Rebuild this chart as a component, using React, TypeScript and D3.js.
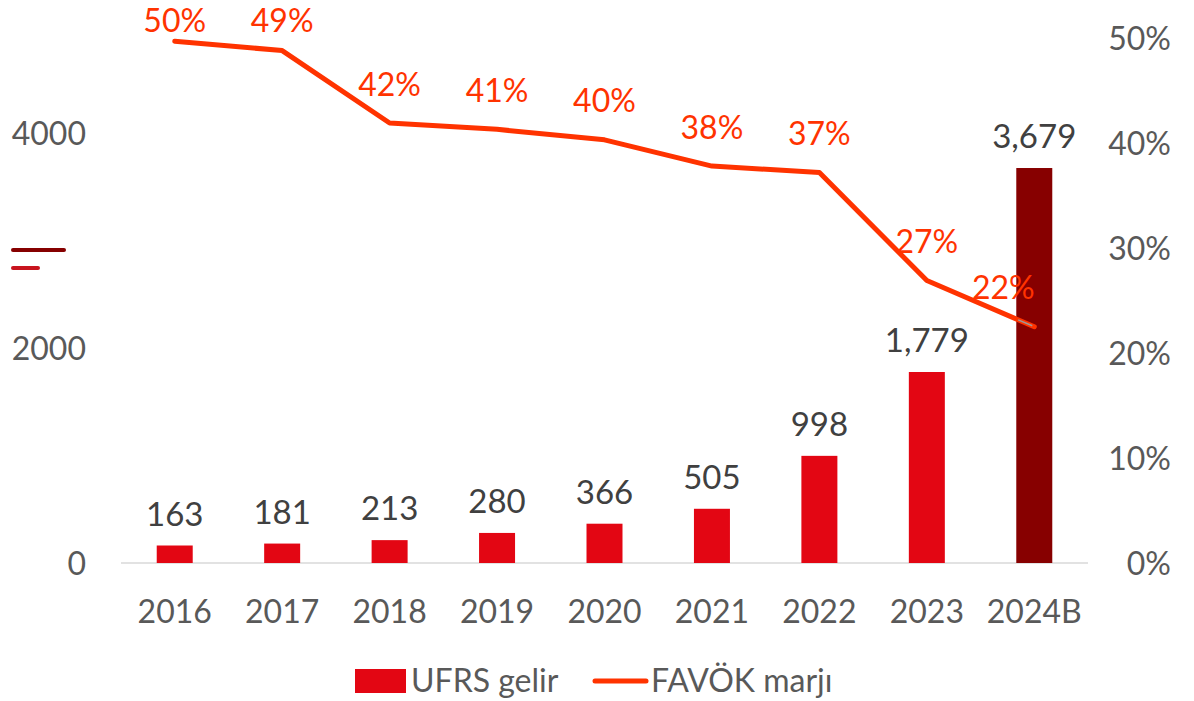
import React from "react";
import * as d3 from "d3";

const categories = ["2016", "2017", "2018", "2019", "2020", "2021", "2022", "2023", "2024B"];
const revenue = [163, 181, 213, 280, 366, 505, 998, 1779, 3679];
const margin = [0.497, 0.488, 0.419, 0.413, 0.403, 0.378, 0.372, 0.269, 0.225];
const marginLabels = ["50%", "49%", "42%", "41%", "40%", "38%", "37%", "27%", "22%"];
const leftTicks = [0, 2000, 4000];
const rightTicks = [0, 0.1, 0.2, 0.3, 0.4, 0.5];

const W = 1194;
const H = 701;
const FONT = "Lato, 'Open Sans', sans-serif";
const AXIS_COLOR = "#595959";
const LABEL_COLOR = "#404040";
const BAR = "#E30613";
const BAR_DARK = "#870000";
const LINE = "#FF3300";
const FS = 32;

export default function App() {
  const x = d3.scaleBand<string>().domain(categories).range([121, 1088]).paddingInner(0.665).paddingOuter(0.3325);
  const yL = d3.scaleLinear().domain([0, 4890]).range([563, 38]);
  const yR = d3.scaleLinear().domain([0, 0.5]).range([563, 38]);
  const cx = (c: string) => (x(c) as number) + x.bandwidth() / 2;
  const line = d3
    .line<number>()
    .x((_, i) => cx(categories[i]))
    .y((d) => yR(d));
  const n = categories.length;
  const lastX = cx(categories[n - 1]);
  const prevX = cx(categories[n - 2]);
  const t = 0.85;
  const grayStart: [number, number] = [
    prevX + (lastX - prevX) * t,
    yR(margin[n - 2]) + (yR(margin[n - 1]) - yR(margin[n - 2])) * t,
  ];

  return (
    <svg width={W} height={H} style={{ position: "absolute", left: 0, top: 0, background: "#fff" }} fontFamily={FONT}>
      {/* baseline */}
      <line x1={121} x2={1088} y1={yL(0)} y2={yL(0)} stroke="#d9d9d9" strokeWidth={1.5} />
      {/* decorative marks */}
      <line x1={13} x2={64} y1={250} y2={250} stroke="#860000" strokeWidth={4} strokeLinecap="round" />
      <line x1={13} x2={38} y1={268} y2={268} stroke="#C8141E" strokeWidth={4} strokeLinecap="round" />
      {/* left axis labels */}
      {leftTicks.map((t) => (
        <text key={t} x={86} y={yL(t)} dy="0.36em" textAnchor="end" fontSize={FS} fill={AXIS_COLOR}>
          {t}
        </text>
      ))}
      {/* right axis labels */}
      {rightTicks.map((t) => (
        <text key={t} x={1171} y={yR(t)} dy="0.36em" textAnchor="end" fontSize={FS} fill={AXIS_COLOR}>
          {d3.format(".0%")(t)}
        </text>
      ))}
      {/* x labels */}
      {categories.map((c) => (
        <text key={c} x={cx(c)} y={623} textAnchor="middle" fontSize={FS} fill={AXIS_COLOR}>
          {c}
        </text>
      ))}
      {/* bars */}
      {revenue.map((v, i) => (
        <rect
          key={i}
          x={x(categories[i])}
          y={yL(v)}
          width={x.bandwidth()}
          height={yL(0) - yL(v)}
          fill={i === n - 1 ? BAR_DARK : BAR}
        />
      ))}
      {/* bar labels */}
      {revenue.map((v, i) => (
        <text key={i} x={cx(categories[i])} y={yL(v) - 20} textAnchor="middle" fontSize={FS + 1} fill={LABEL_COLOR}>
          {d3.format(",")(v)}
        </text>
      ))}
      {/* line */}
      <path d={line(margin) || ""} fill="none" stroke={LINE} strokeWidth={5} strokeLinejoin="round" strokeLinecap="round" />
      <line x1={grayStart[0]} y1={grayStart[1]} x2={lastX - 2} y2={yR(margin[n - 1]) - 1} stroke="#9a9a9a" strokeWidth={1.5} />
      {/* line labels */}
      {margin.map((m, i) => (
        <text
          key={i}
          x={cx(categories[i]) + (i === n - 1 ? -31 : 0)}
          y={Math.max(yR(m) - 39, 20)}
          dy="0.36em"
          textAnchor="middle"
          fontSize={FS}
          fill={LINE}
        >
          {marginLabels[i]}
        </text>
      ))}
      {/* legend */}
      <rect x={355} y={669} width={51} height={24} fill={BAR} />
      <text x={411} y={692} fontSize={FS} fill={AXIS_COLOR}>
        UFRS gelir
      </text>
      <line x1={595} x2={646} y1={681} y2={681} stroke={LINE} strokeWidth={5} strokeLinecap="round" />
      <text x={651} y={692} fontSize={FS} fill={AXIS_COLOR}>
        FAVÖK marjı
      </text>
    </svg>
  );
}
